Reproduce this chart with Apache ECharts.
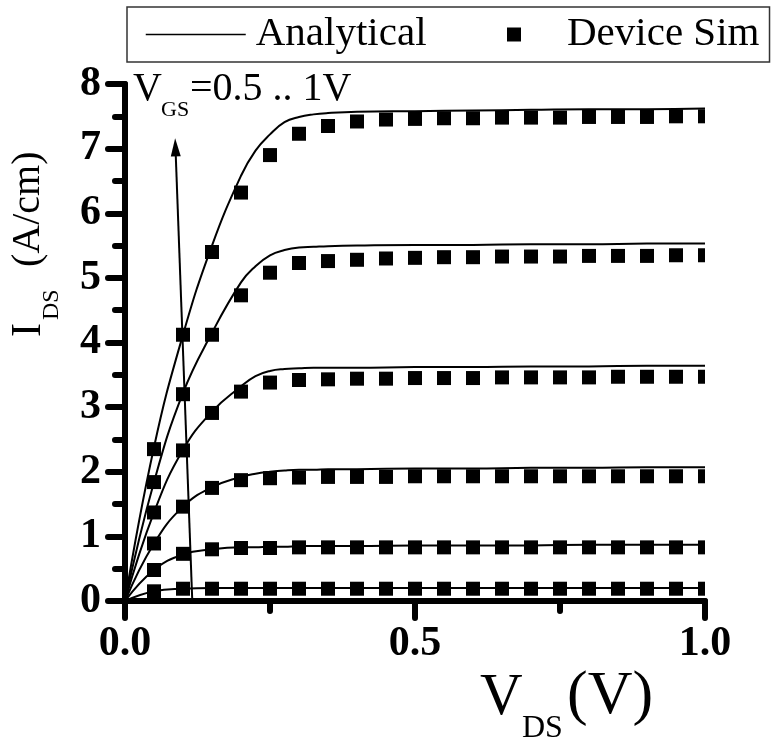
<!DOCTYPE html>
<html>
<head>
<meta charset="utf-8">
<script src="https://cdn.jsdelivr.net/npm/echarts@6/dist/echarts.min.js"></script>
<style>
html,body{margin:0;padding:0;background:#fff;}
#chart{width:773px;height:743px;}
</style>
</head>
<body>
<div id="chart"></div>
<script>
// ---------- data ----------
var vdsModel = [0, 0.05, 0.1, 0.15, 0.2, 0.225, 0.25, 0.275, 0.3, 0.325, 0.35, 0.4, 0.5, 0.6, 0.7, 0.8, 0.9, 1.0];
var modelVgs10 = [0, 2.38, 4.12, 5.50, 6.58, 6.97, 7.22, 7.41, 7.49, 7.53, 7.55, 7.57, 7.58, 7.59, 7.60, 7.61, 7.61, 7.62];
var modelVgs09 = [0, 1.84, 3.22, 4.15, 4.93, 5.18, 5.35, 5.43, 5.47, 5.48, 5.49, 5.50, 5.51, 5.51, 5.52, 5.52, 5.53, 5.53];
var modelVgs08 = [0, 1.37, 2.34, 2.93, 3.32, 3.48, 3.56, 3.59, 3.60, 3.61, 3.61, 3.61, 3.62, 3.62, 3.63, 3.63, 3.64, 3.64];
var modelVgs07 = [0, 0.89, 1.46, 1.76, 1.92, 1.97, 2.00, 2.02, 2.03, 2.03, 2.04, 2.04, 2.05, 2.05, 2.06, 2.06, 2.07, 2.07];
var modelVgs06 = [0, 0.48, 0.72, 0.80, 0.83, 0.83, 0.84, 0.84, 0.85, 0.85, 0.85, 0.85, 0.86, 0.86, 0.86, 0.87, 0.87, 0.87];
var modelVgs05 = [0, 0.15, 0.19, 0.20, 0.20, 0.20, 0.20, 0.20, 0.20, 0.20, 0.20, 0.20, 0.20, 0.20, 0.20, 0.20, 0.20, 0.20];

var vdsSim = [0.05, 0.1, 0.15, 0.2, 0.25, 0.3, 0.35, 0.4, 0.45, 0.5, 0.55, 0.6, 0.65, 0.7, 0.75, 0.8, 0.85, 0.9, 0.95, 1.0];
var simVgs10 = [2.35, 4.12, 5.40, 6.32, 6.90, 7.23, 7.35, 7.42, 7.45, 7.46, 7.47, 7.47, 7.48, 7.48, 7.48, 7.49, 7.49, 7.49, 7.50, 7.50];
var simVgs09 = [1.84, 3.20, 4.12, 4.73, 5.08, 5.23, 5.26, 5.28, 5.30, 5.31, 5.32, 5.32, 5.33, 5.33, 5.33, 5.34, 5.34, 5.34, 5.35, 5.35];
var simVgs08 = [1.37, 2.33, 2.91, 3.24, 3.38, 3.42, 3.43, 3.44, 3.44, 3.45, 3.45, 3.45, 3.46, 3.46, 3.46, 3.46, 3.47, 3.47, 3.47, 3.47];
var simVgs07 = [0.89, 1.46, 1.75, 1.87, 1.90, 1.91, 1.92, 1.92, 1.92, 1.93, 1.93, 1.93, 1.93, 1.93, 1.93, 1.93, 1.93, 1.93, 1.93, 1.93];
var simVgs06 = [0.48, 0.73, 0.80, 0.82, 0.82, 0.83, 0.83, 0.83, 0.83, 0.83, 0.83, 0.83, 0.83, 0.83, 0.83, 0.83, 0.83, 0.83, 0.83, 0.83];
var simVgs05 = [0.15, 0.19, 0.19, 0.19, 0.19, 0.19, 0.19, 0.19, 0.19, 0.19, 0.19, 0.19, 0.19, 0.19, 0.19, 0.19, 0.19, 0.19, 0.19, 0.19];

var xTicks = { min: 0, max: 1, interval: 0.5 };
var yTicks = { min: 0, max: 8, interval: 1 };
var arrowFrom = [0.116, 0];
var arrowTo = [0.087, 7.02];

var legendNames = ['Analytical', 'Device Sim'];
var annotationText = ['V', 'GS', '=0.5 .. 1V'];
var xTitle = ['V', 'DS', '(V)'];
var yTitle = ['I', 'DS', '(A/cm)'];

// ---------- build ----------
var FONT = "'Liberation Serif','Times New Roman',Times,serif";
function zip(xs, ys) { return xs.map(function (x, i) { return [x, ys[i]]; }); }

var modelSets = [modelVgs10, modelVgs09, modelVgs08, modelVgs07, modelVgs06, modelVgs05];
var simSets = [simVgs10, simVgs09, simVgs08, simVgs07, simVgs06, simVgs05];

var series = [];
modelSets.forEach(function (ys, i) {
  var s = {
    name: legendNames[0],
    type: 'line',
    data: zip(vdsModel, ys),
    symbol: 'none',
    smooth: 0.45,
    lineStyle: { color: '#000', width: 2 },
    itemStyle: { color: '#000' },
    z: 3,
    animation: false
  };
  if (i === 0) {
    s.markLine = {
      silent: true,
      symbol: ['none', 'triangle'],
      symbolSize: [10, 18],
      lineStyle: { color: '#000', width: 2, type: 'solid' },
      itemStyle: { color: '#000' },
      label: { show: false },
      data: [[{ coord: arrowFrom }, { coord: arrowTo }]],
      animation: false
    };
  }
  series.push(s);
});
simSets.forEach(function (ys) {
  series.push({
    name: legendNames[1],
    type: 'custom',
    clip: true,
    data: zip(vdsSim, ys),
    itemStyle: { color: '#000' },
    z: 2,
    animation: false,
    renderItem: function (params, api) {
      var p = api.coord([api.value(0), api.value(1)]);
      var s = 14;
      return { type: 'rect', shape: { x: p[0] - s / 2, y: p[1] - s / 2, width: s, height: s }, style: { fill: '#000' } };
    }
  });
});

function axisCommon() {
  return {
    type: 'value',
    axisLine: { show: true, lineStyle: { color: '#000', width: 6 } },
    axisTick: { show: true, length: 17, lineStyle: { color: '#000', width: 6, cap: 'round' } },
    minorTick: { show: true, splitNumber: 2, length: 10, lineStyle: { color: '#000', width: 6, cap: 'round' } },
    splitLine: { show: false },
    minorSplitLine: { show: false },
    axisLabel: { color: '#000', fontFamily: FONT, fontWeight: 'bold', fontSize: 42 }
  };
}
var xAxis = axisCommon();
xAxis.min = xTicks.min; xAxis.max = xTicks.max; xAxis.interval = xTicks.interval;
xAxis.axisLabel.margin = 22;
xAxis.axisLabel.formatter = function (v) { return v.toFixed(1); };
var yAxis = axisCommon();
yAxis.min = yTicks.min; yAxis.max = yTicks.max; yAxis.interval = yTicks.interval;
yAxis.axisLabel.margin = 24;

function txt(str, x, y, size) {
  return { type: 'text', x: x, y: y, silent: true,
    style: { text: str, fontFamily: FONT, fontSize: size, fill: '#000', align: 'left', verticalAlign: 'middle' } };
}

var option = {
  backgroundColor: '#fff',
  animation: false,
  grid: { left: 125, right: 68, top: 84, bottom: 142, containLabel: false },
  xAxis: xAxis,
  yAxis: yAxis,
  legend: [
    {
      left: 127, top: 7,
      padding: [7, 343, 7, 18],
      itemWidth: 100, itemHeight: 14,
      borderColor: '#333', borderWidth: 1.5,
      textStyle: { fontFamily: FONT, fontSize: 41, color: '#000', padding: [0, 0, 0, 5] },
      lineStyle: { width: 1.5 },
      data: [{ name: legendNames[0], itemStyle: { opacity: 0, color: 'rgba(0,0,0,0)', borderWidth: 0 } }]
    },
    {
      left: 507, top: 14,
      padding: 0,
      itemWidth: 14, itemHeight: 14,
      textStyle: { fontFamily: FONT, fontSize: 41, color: '#000', padding: [0, 0, 0, 41] },
      data: [{ name: legendNames[1], icon: 'rect' }]
    }
  ],
  graphic: [
    txt(annotationText[0], 133, 89, 40),
    txt(annotationText[1], 161, 110.5, 22),
    txt(annotationText[2], 190, 89, 40),
    txt(xTitle[0], 480, 698, 59),
    txt(xTitle[1], 522, 729, 32),
    txt(xTitle[2], 567, 697, 62),
    { type: 'group', x: 43, y: 337, rotation: Math.PI / 2, silent: true,
      children: [
        txt(yTitle[0], 0, -14.3, 42),
        txt(yTitle[1], 17, 8.8, 24),
        txt(yTitle[2], 70, -14.3, 40)
      ] }
  ],
  series: series
};

var chart = echarts.init(document.getElementById('chart'), null, { renderer: 'canvas' });
chart.setOption(option);
</script>
</body>
</html>
